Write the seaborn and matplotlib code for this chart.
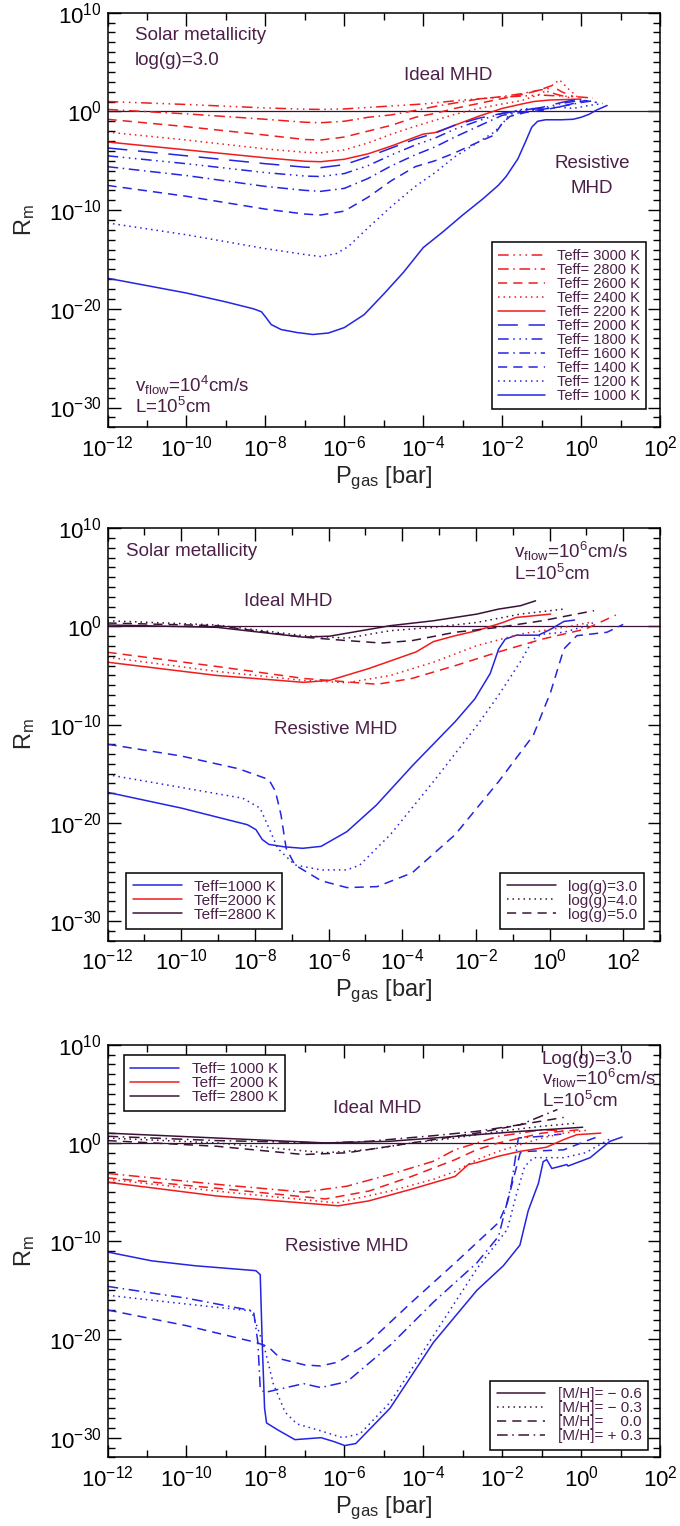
import numpy as np
import pandas as pd
import matplotlib
matplotlib.use("Agg")
import matplotlib.pyplot as plt
import seaborn as sns
from matplotlib.lines import Line2D
from matplotlib.ticker import FixedLocator, FuncFormatter, NullFormatter

sns.set_style("ticks")
plt.rcParams["font.family"] = ["Liberation Sans", "DejaVu Sans"]
plt.rcParams["mathtext.fontset"] = "custom"
plt.rcParams["mathtext.rm"] = "Liberation Sans"
plt.rcParams["mathtext.it"] = "Liberation Sans:italic"
plt.rcParams["mathtext.bf"] = "Liberation Sans:bold"
plt.rcParams["mathtext.default"] = "regular"

# ---------------- data (log10 P_gas [bar], log10 R_m) ----------------
# Panel 1: solar metallicity, log(g)=3.0, Teff grid
p1_3000_P = [-12, -10, -8, -7, -6.6, -6.0, -5.0, -4.0, -3.0, -2.0, -1.0, -0.5, 0.0, 0.3]
p1_3000_R = [1.0, 0.7, 0.35, 0.22, 0.2, 0.25, 0.5, 0.75, 1.15, 1.45, 1.65, 1.55, 1.45, 1.35]
p1_2800_P = [-12, -10, -8, -7, -6.6, -6.0, -5.4, -4.8, -4.2, -3.7, -3.2, -2.6, -2.0, -1.5, -1.0, -0.6, -0.3]
p1_2800_R = [0.2, -0.25, -0.8, -1.1, -1.15, -1.0, -0.6, -0.35, 0.1, 0.5, 0.85, 1.25, 1.5, 1.8, 2.2, 1.7, 1.4]
p1_2600_P = [-12, -10, -8, -7, -6.6, -6.0, -5.4, -4.8, -4.2, -3.7, -3.2, -2.6, -2.0, -1.5, -1.1, -0.75, -0.5, -0.2]
p1_2600_R = [-0.8, -1.55, -2.4, -2.85, -2.9, -2.6, -2.0, -1.4, -0.6, -0.2, 0.3, 0.8, 1.3, 1.7, 2.1, 2.6, 2.0, 1.5]
p1_2400_P = [-12, -10, -8, -7, -6.6, -6.0, -5.4, -4.8, -4.2, -3.7, -3.2, -2.6, -2.0, -1.5, -1.0, -0.55, -0.3, -0.1]
p1_2400_R = [-2.1, -2.9, -3.8, -4.15, -4.2, -3.9, -3.2, -2.3, -1.5, -0.9, -0.3, 0.3, 0.75, 1.1, 1.8, 3.2, 2.2, 1.5]
p1_2200_P = [-12, -10, -8, -7, -6.6, -6.0, -5.4, -4.8, -4.2, -4.0, -3.7, -3.2, -2.6, -2.0, -1.5, -1.2, -0.8, -0.4, 0.0]
p1_2200_R = [-3.1, -3.9, -4.7, -5.05, -5.1, -4.85, -4.3, -3.5, -2.6, -2.3, -2.15, -1.4, -0.5, 0.3, 0.75, 1.0, 1.15, 1.2, 1.25]
p1_2000_P = [-12, -10, -8, -7, -6.6, -6.0, -5.4, -4.8, -4.2, -3.7, -3.2, -2.6, -2.0, -1.5, -1.0, -0.5, 0.0]
p1_2000_R = [-3.7, -4.5, -5.3, -5.65, -5.7, -5.4, -4.6, -3.7, -2.8, -2.2, -1.4, -0.7, -0.2, 0.1, 0.4, 0.9, 1.3]
p1_1800_P = [-12, -10, -8, -7, -6.6, -6.0, -5.4, -4.8, -4.2, -3.7, -3.2, -2.6, -2.0, -1.5, -1.0, -0.5, 0.1]
p1_1800_R = [-4.5, -5.3, -6.2, -6.55, -6.6, -6.3, -5.5, -4.4, -3.4, -2.7, -1.8, -0.95, -0.2, 0.1, 0.3, 0.8, 1.2]
p1_1600_P = [-12, -10, -8, -7, -6.6, -6.0, -5.4, -4.8, -4.2, -3.7, -3.2, -2.6, -2.0, -1.5, -1.0, -0.5, 0.0, 0.35]
p1_1600_R = [-5.6, -6.5, -7.6, -8.0, -8.1, -7.8, -6.8, -5.5, -4.4, -3.6, -2.6, -1.5, -0.4, -0.1, 0.2, 0.5, 0.9, 1.1]
p1_1400_P = [-12, -10, -8, -7, -6.6, -6.0, -5.4, -4.8, -4.2, -3.7, -3.2, -2.6, -2.2, -2.0, -1.8, -1.4, -1.0, -0.5, 0.1, 0.4]
p1_1400_R = [-7.5, -8.6, -9.9, -10.4, -10.5, -10.1, -8.7, -7.0, -5.6, -5.0, -4.2, -3.1, -2.4, -1.2, -0.5, -0.1, 0.1, 0.5, 1.1, 0.9]
p1_1200_P = [-12, -10, -8, -7, -6.6, -6.2, -5.9, -5.4, -4.8, -4.2, -3.7, -3.2, -2.6, -2.2, -1.98, -1.8, -1.6, -1.3, -1.0, -0.6, -0.2, 0.2, 0.55]
p1_1200_R = [-11.3, -12.5, -13.9, -14.5, -14.7, -14.4, -13.7, -11.8, -9.6, -7.6, -6.2, -4.6, -3.1, -2.1, -1.2, -0.2, 0.15, 0.3, 0.2, 0.45, 0.3, 0.6, 0.8]
p1_1000_P = [-12, -10, -9, -8.3, -8.1, -8.0, -7.85, -7.6, -7.2, -6.8, -6.4, -6.0, -5.5, -5.0, -4.5, -4.0, -3.5, -3.0, -2.5, -2.1, -1.9, -1.6, -1.4, -1.25, -1.1, -0.9, -0.5, -0.2, 0.0, 0.2, 0.4, 0.66]
p1_1000_R = [-16.9, -18.4, -19.3, -20.0, -20.3, -20.8, -21.6, -22.1, -22.4, -22.6, -22.45, -21.9, -20.6, -18.5, -16.3, -13.8, -12.2, -10.5, -8.9, -7.5, -6.6, -4.8, -3.0, -1.6, -1.0, -0.85, -0.85, -0.8, -0.6, -0.3, 0.15, 0.6]

# Panel 2: solar metallicity, log(g) = 3, 4, 5 for Teff = 1000, 2000, 2800 K
p2_1000_g3_P = [-12, -10, -8.2, -7.97, -7.8, -7.62, -7.2, -6.7, -6.2, -5.5, -4.7, -3.7, -2.56, -2.03, -1.61, -1.38, -1.2, -0.9, -0.3, 0.03, 0.39, 0.68]
p2_1000_g3_R = [-16.9, -18.5, -20.2, -20.7, -21.7, -22.2, -22.45, -22.6, -22.4, -20.9, -18.2, -14.1, -9.7, -7.4, -4.8, -2.3, -1.3, -0.9, -0.9, -0.3, 0.5, 0.64]
p2_1000_g4_P = [-12, -10, -8.33, -7.86, -7.62, -7.38, -6.91, -6.2, -5.5, -5.15, -4.32, -3.15, -1.97, -1.38, -0.79, -0.44, -0.2, 0.39, 0.86, 1.21]
p2_1000_g4_R = [-15.1, -16.4, -17.5, -18.5, -20.5, -22.6, -24.3, -24.8, -24.8, -24.3, -21.2, -15.8, -10.1, -7.0, -3.6, -1.3, -0.8, -0.6, -0.1, 0.4]
p2_1000_g5_P = [-12, -10, -8.44, -7.62, -7.44, -7.29, -7.15, -6.91, -6.2, -5.5, -4.68, -3.73, -2.56, -1.38, -0.44, 0.03, 0.39, 0.74, 1.56, 2.0]
p2_1000_g5_R = [-12.0, -13.2, -14.5, -15.6, -16.8, -19.2, -22.6, -24.3, -25.9, -26.6, -26.5, -25.1, -21.2, -15.8, -11.1, -6.7, -2.3, -0.95, -0.6, 0.2]
p2_2000_g3_P = [-12, -9.03, -6.68, -5.97, -4.91, -3.62, -3.15, -2.56, -1.97, -1.26, -0.91, 0.03]
p2_2000_g3_R = [-3.65, -5.0, -5.7, -5.5, -4.3, -2.6, -1.55, -0.95, -0.44, 0.4, 0.9, 1.25]
p2_2000_g4_P = [-12, -9, -6.68, -5.5, -4.32, -3.15, -1.97, -0.79, 0.39, 1.1]
p2_2000_g4_R = [-3.14, -4.6, -5.5, -5.74, -5.0, -3.65, -1.96, -0.78, -0.1, 0.4]
p2_2000_g5_P = [-12, -9, -6.68, -4.68, -3.73, -2.56, -1.38, -0.2, 0.98, 1.8]
p2_2000_g5_R = [-2.64, -4.1, -5.3, -5.9, -5.3, -4.0, -2.6, -1.3, -0.27, 1.15]
p2_2800_g3_P = [-12, -9.03, -6.68, -5.97, -4.32, -3.15, -1.97, -1.38, -0.79, -0.38]
p2_2800_g3_R = [0.14, -0.1, -1.1, -1.0, 0.07, 0.57, 1.25, 1.76, 2.1, 2.6]
p2_2800_g4_P = [-12, -9.03, -6.68, -5.5, -4.32, -3.15, -1.97, -0.79, 0.39]
p2_2800_g4_R = [0.57, 0.14, -0.95, -1.2, -0.44, -0.1, 0.4, 1.25, 1.76]
p2_2800_g5_P = [-12, -9.03, -6.68, -5.5, -4.56, -3.73, -2.56, -1.38, -0.2, 1.21]
p2_2800_g5_R = [0.34, 0.07, -1.1, -1.45, -1.7, -1.45, -0.6, -0.1, 0.57, 1.6]

# Panel 3: log(g)=3.0, [M/H] = -0.6, -0.3, 0.0, +0.3
p3_1000_m06_P = [-12, -10.88, -9.78, -8.24, -8.13, -8.08, -8.02, -7.97, -7.69, -7.25, -6.59, -6.26, -5.99, -5.71, -4.84, -3.74, -2.64, -1.97, -1.55, -1.34, -1.08, -0.96, -0.87, -0.74, -0.36, -0.33, 0.23, 0.73, 1.04]
p3_1000_m06_R = [-11.1, -12.0, -12.5, -13.0, -13.4, -20.3, -27.0, -28.5, -29.2, -30.2, -30.0, -30.4, -30.8, -30.6, -27.0, -20.3, -15.0, -12.5, -10.4, -6.9, -4.1, -1.9, -1.7, -2.6, -2.2, -2.35, -1.5, 0.16, 0.6]
p3_1000_m03_P = [-12, -10, -8.35, -8.19, -8.02, -7.8, -7.5, -7.2, -6.6, -6.04, -5.6, -4.84, -3.74, -2.64, -1.87, -1.65, -1.43, -1.21, -0.44, 0.11, 0.55, 0.77]
p3_1000_m03_R = [-15.5, -16.4, -17.1, -18.9, -20.9, -24.5, -27.4, -28.6, -29.3, -30.0, -29.6, -26.4, -19.6, -12.8, -8.8, -5.4, -2.4, -1.5, -1.5, -1.0, 0.0, 0.5]
p3_1000_p00_P = [-12, -10, -8.24, -8.02, -7.86, -7.6, -7.0, -6.6, -6.15, -5.38, -4.29, -3.19, -2.09, -1.87, -1.70, -1.54, -1.32, -0.44, 0.11, 0.4]
p3_1000_p00_R = [-17.0, -18.6, -20.3, -20.6, -21.0, -22.0, -22.6, -22.7, -22.3, -20.3, -16.2, -12.2, -8.1, -6.1, -3.4, -1.0, -0.85, -0.7, 0.17, 0.6]
p3_1000_p03_P = [-12, -10, -8.3, -8.19, -8.13, -8.02, -7.47, -7.03, -6.6, -5.93, -4.84, -3.74, -2.64, -2.09, -1.92, -1.76, -1.59, -0.99, -0.5]
p3_1000_p03_R = [-14.6, -15.8, -17.1, -20.3, -25.0, -25.4, -24.9, -24.5, -24.9, -24.3, -20.6, -16.2, -12.2, -9.5, -6.8, -4.1, 0.5, 0.68, 0.9]
p3_2000_m06_P = [-12, -9.23, -6.15, -5.38, -4.29, -3.19, -2.86, -2.64, -2.09, -1.54, -0.88, -0.44, -0.11, 0.5]
p3_2000_m06_R = [-4.0, -5.4, -6.4, -5.9, -4.7, -3.4, -2.2, -2.0, -1.35, -0.85, -0.44, 0.34, 0.84, 1.0]
p3_2000_m03_P = [-12, -9, -6.2, -4.84, -3.74, -3.19, -2.64, -2.09, -1.54, -0.99, -0.44, 0.17]
p3_2000_m03_R = [-3.7, -5.0, -6.1, -4.9, -3.7, -2.9, -1.7, -0.85, -0.17, 0.5, 1.0, 1.3]
p3_2000_p00_P = [-12, -9, -6.48, -5.38, -4.29, -3.19, -2.64, -2.09, -1.54, -0.99, -0.44, 0.0]
p3_2000_p00_R = [-3.55, -4.7, -5.7, -4.9, -3.4, -1.7, -0.68, 0.0, 0.5, 1.0, 1.2, 1.35]
p3_2000_p03_P = [-12, -9, -7.03, -5.93, -4.84, -3.74, -3.19, -2.64, -2.09, -1.54, -0.99, -0.33]
p3_2000_p03_R = [-3.1, -4.3, -5.0, -4.4, -3.2, -1.86, -0.68, 0.0, 0.68, 1.0, 1.35, 1.2]
p3_2800_m06_P = [-12, -9.23, -6.48, -4.84, -3.74, -2.64, -1.54, 0.04]
p3_2800_m06_R = [1.0, 0.5, 0.0, 0.17, 0.5, 0.84, 1.18, 1.6]
p3_2800_m03_P = [-12, -9.23, -6.48, -5.38, -4.29, -3.19, -2.09, -0.99, -0.16]
p3_2800_m03_R = [0.5, 0.0, -1.0, -0.68, 0.0, 0.5, 1.18, 1.7, 2.0]
p3_2800_p00_P = [-12, -9.23, -7.03, -5.93, -4.84, -3.74, -2.64, -1.54, -0.44]
p3_2800_p00_R = [0.24, -0.34, -1.18, -1.0, -0.34, 0.34, 1.0, 1.86, 2.6]
p3_2800_p03_P = [-12, -9.23, -6.48, -5.38, -3.74, -2.64, -1.54, -0.6]
p3_2800_p03_R = [0.68, 0.24, 0.0, 0.17, 0.74, 1.18, 1.86, 3.4]

# ---------------- style ----------------
BLUE = "#2424E2"
RED = "#F01C1C"
DARK = "#3A1238"
TXT = "#4B1F48"
LS = {
    "solid": "-",
    "dot": (0, (1, 2.6)),
    "dash": (0, (6, 4)),
    "dashdot": (0, (7, 3, 1, 3)),
    "dash3dot": (0, (7, 3, 1, 3, 1, 3, 1, 3)),
    "longdash": (0, (13, 7)),
}
LW = 1.1

fig = plt.figure(figsize=(6.8, 15.26), dpi=100)
ax1 = fig.add_axes([0.1581, 0.7200, 0.8125, 0.2717])
ax2 = fig.add_axes([0.1581, 0.3836, 0.8125, 0.2703])
ax3 = fig.add_axes([0.1581, 0.0450, 0.8125, 0.2704])

fmt = FuncFormatter(lambda v, p: r"$10^{%d}$" % int(round(np.log10(v))))


def setup(ax, xmax_dec):
    ax.set_xscale("log")
    ax.set_yscale("log")
    ax.set_xlim(1e-12, 10.0 ** xmax_dec)
    ax.set_ylim(1e-32, 1e10)


def finish(ax, xmax_dec):
    ax.xaxis.set_major_locator(FixedLocator([10.0 ** k for k in range(-12, 3, 2)]))
    ax.xaxis.set_minor_locator(FixedLocator([10.0 ** k for k in range(-11, xmax_dec + 1, 2)]))
    ax.yaxis.set_major_locator(FixedLocator([10.0 ** k for k in range(-30, 11, 10)]))
    ax.yaxis.set_minor_locator(FixedLocator([10.0 ** k for k in range(-32, 11) if k % 10]))
    ax.xaxis.set_major_formatter(fmt)
    ax.yaxis.set_major_formatter(fmt)
    ax.xaxis.set_minor_formatter(NullFormatter())
    ax.yaxis.set_minor_formatter(NullFormatter())
    ax.tick_params(which="both", direction="in", top=True, right=True,
                   labelsize=16, color="black", labelcolor="black")
    ax.tick_params(which="major", length=9, width=1.0)
    ax.tick_params(which="minor", length=5, width=1.0)
    ax.tick_params(axis="x", which="major", pad=6)
    ax.tick_params(axis="y", which="major", pad=4)
    for s in ax.spines.values():
        s.set_linewidth(1.1)
        s.set_color("black")
    ax.set_xlabel(r"$P_{gas}$ [bar]", fontsize=17, labelpad=2)
    ax.set_ylabel(r"$R_m$", fontsize=17, labelpad=9)
    ax.axhline(1.0, color=DARK, lw=0.9, zorder=1)


def draw(ax, P, R, color, ls):
    df = pd.DataFrame({"P": 10.0 ** np.array(P), "R": 10.0 ** np.array(R)})
    sns.lineplot(data=df, x="P", y="R", ax=ax, color=color, linestyle=ls,
                 lw=LW, sort=False, estimator=None, legend=False)


def legend(ax, items, loc, anchor, fs):
    handles = [Line2D([], [], color=c, linestyle=LS[s], lw=LW) for c, s, _ in items]
    labels = [l for _, _, l in items]
    leg = ax.legend(handles, labels, loc=loc, bbox_to_anchor=anchor, fontsize=fs,
                    frameon=True, fancybox=False, framealpha=1, edgecolor="black",
                    labelcolor=TXT, borderaxespad=0, borderpad=0.45, labelspacing=0.0,
                    handlelength=3.2, handletextpad=0.8)
    leg.get_frame().set_linewidth(1.1)
    return leg


def txt(ax, x, y, s, ha="left"):
    ax.text(x, y, s, transform=ax.transAxes, ha=ha, va="center", fontsize=13.5, color=TXT)


# ---------------- panel 1 ----------------
setup(ax1, 2)
p1 = [
    (p1_3000_P, p1_3000_R, RED, "dash3dot", "Teff= 3000 K"),
    (p1_2800_P, p1_2800_R, RED, "dashdot", "Teff= 2800 K"),
    (p1_2600_P, p1_2600_R, RED, "dash", "Teff= 2600 K"),
    (p1_2400_P, p1_2400_R, RED, "dot", "Teff= 2400 K"),
    (p1_2200_P, p1_2200_R, RED, "solid", "Teff= 2200 K"),
    (p1_2000_P, p1_2000_R, BLUE, "longdash", "Teff= 2000 K"),
    (p1_1800_P, p1_1800_R, BLUE, "dash3dot", "Teff= 1800 K"),
    (p1_1600_P, p1_1600_R, BLUE, "dashdot", "Teff= 1600 K"),
    (p1_1400_P, p1_1400_R, BLUE, "dash", "Teff= 1400 K"),
    (p1_1200_P, p1_1200_R, BLUE, "dot", "Teff= 1200 K"),
    (p1_1000_P, p1_1000_R, BLUE, "solid", "Teff= 1000 K"),
]
for P, R, c, s, _ in p1:
    draw(ax1, P, R, c, LS[s])
finish(ax1, 2)
legend(ax1, [(c, s, l) for _, _, c, s, l in p1], "lower right", (0.975, 0.043), 10.5)
txt(ax1, 0.05, 0.944, "Solar metallicity")
txt(ax1, 0.05, 0.884, "log(g)=3.0")
txt(ax1, 0.616, 0.848, "Ideal MHD", ha="center")
txt(ax1, 0.877, 0.635, "Resistive", ha="center")
txt(ax1, 0.877, 0.575, "MHD", ha="center")
txt(ax1, 0.05, 0.100, r"$v_{flow}$=10$^{4}$cm/s")
txt(ax1, 0.05, 0.048, r"L=10$^{5}$cm")

# ---------------- panel 2 ----------------
setup(ax2, 3)
p2 = [
    (p2_1000_g3_P, p2_1000_g3_R, BLUE, "solid"),
    (p2_1000_g4_P, p2_1000_g4_R, BLUE, "dot"),
    (p2_1000_g5_P, p2_1000_g5_R, BLUE, "dash"),
    (p2_2000_g3_P, p2_2000_g3_R, RED, "solid"),
    (p2_2000_g4_P, p2_2000_g4_R, RED, "dot"),
    (p2_2000_g5_P, p2_2000_g5_R, RED, "dash"),
    (p2_2800_g3_P, p2_2800_g3_R, DARK, "solid"),
    (p2_2800_g4_P, p2_2800_g4_R, DARK, "dot"),
    (p2_2800_g5_P, p2_2800_g5_R, DARK, "dash"),
]
for P, R, c, s in p2:
    draw(ax2, P, R, c, LS[s])
finish(ax2, 3)
l2a = legend(ax2, [(BLUE, "solid", "Teff=1000 K"), (RED, "solid", "Teff=2000 K"),
                   (DARK, "solid", "Teff=2800 K")], "lower left", (0.033, 0.029), 11)
ax2.add_artist(l2a)
legend(ax2, [(DARK, "solid", "log(g)=3.0"), (DARK, "dot", "log(g)=4.0"),
             (DARK, "dash", "log(g)=5.0")], "lower right", (0.971, 0.029), 11)
txt(ax2, 0.033, 0.943, "Solar metallicity")
txt(ax2, 0.735, 0.943, r"$v_{flow}$=10$^{6}$cm/s")
txt(ax2, 0.735, 0.889, r"L=10$^{5}$cm")
txt(ax2, 0.327, 0.823, "Ideal MHD", ha="center")
txt(ax2, 0.412, 0.513, "Resistive MHD", ha="center")

# ---------------- panel 3 ----------------
setup(ax3, 2)
p3 = [
    (p3_1000_m06_P, p3_1000_m06_R, BLUE, "solid"),
    (p3_1000_m03_P, p3_1000_m03_R, BLUE, "dot"),
    (p3_1000_p00_P, p3_1000_p00_R, BLUE, "dash"),
    (p3_1000_p03_P, p3_1000_p03_R, BLUE, "dashdot"),
    (p3_2000_m06_P, p3_2000_m06_R, RED, "solid"),
    (p3_2000_m03_P, p3_2000_m03_R, RED, "dot"),
    (p3_2000_p00_P, p3_2000_p00_R, RED, "dash"),
    (p3_2000_p03_P, p3_2000_p03_R, RED, "dashdot"),
    (p3_2800_m06_P, p3_2800_m06_R, DARK, "solid"),
    (p3_2800_m03_P, p3_2800_m03_R, DARK, "dot"),
    (p3_2800_p00_P, p3_2800_p00_R, DARK, "dash"),
    (p3_2800_p03_P, p3_2800_p03_R, DARK, "dashdot"),
]
for P, R, c, s in p3:
    draw(ax3, P, R, c, LS[s])
finish(ax3, 2)
l3a = legend(ax3, [(BLUE, "solid", "Teff= 1000 K"), (RED, "solid", "Teff= 2000 K"),
                   (DARK, "solid", "Teff= 2800 K")], "upper left", (0.029, 0.975), 11)
ax3.add_artist(l3a)
legend(ax3, [(DARK, "solid", "[M/H]= \u2212 0.6"), (DARK, "dot", "[M/H]= \u2212 0.3"),
             (DARK, "dash", "[M/H]=    0.0"), (DARK, "dashdot", "[M/H]= + 0.3")],
       "lower right", (0.979, 0.017), 11)
txt(ax3, 0.786, 0.963, "Log(g)=3.0")
txt(ax3, 0.786, 0.917, r"$v_{flow}$=10$^{6}$cm/s")
txt(ax3, 0.786, 0.864, r"L=10$^{5}$cm")
txt(ax3, 0.488, 0.845, "Ideal MHD", ha="center")
txt(ax3, 0.433, 0.510, "Resistive MHD", ha="center")

fig.savefig("out.png", dpi=100)
